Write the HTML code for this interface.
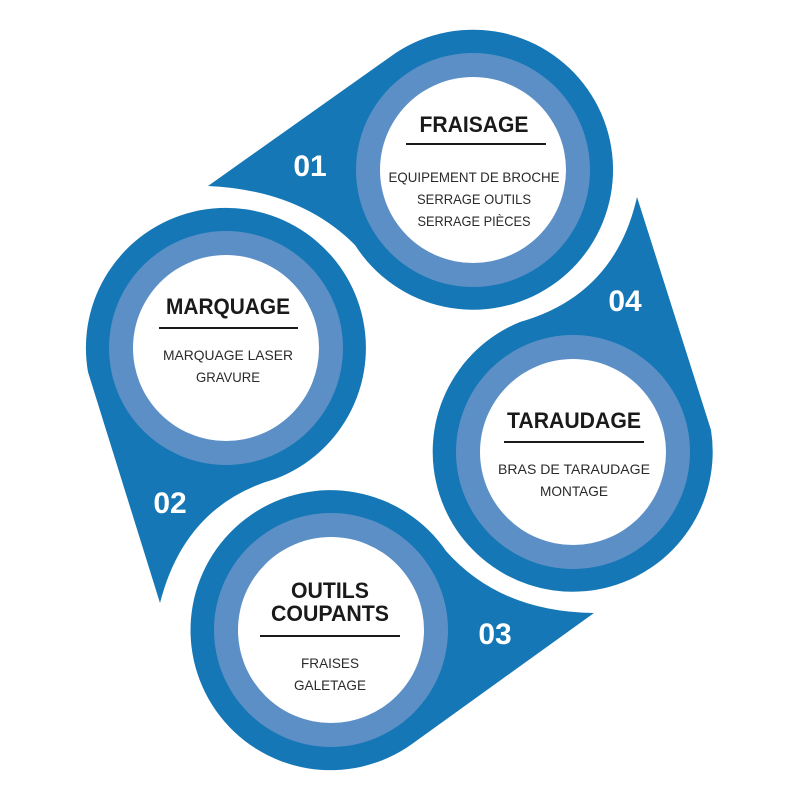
<!DOCTYPE html>
<html><head><meta charset="utf-8"><style>
html,body{margin:0;padding:0;background:#fff;width:800px;height:800px;overflow:hidden}
svg text{font-family:"Liberation Sans Narrow","Liberation Sans",sans-serif}
.t{font-weight:bold;font-size:22px;fill:#1a1a1a;text-anchor:middle}
.b{font-size:14px;fill:#2a2a2a;text-anchor:middle}
.n{font-weight:bold;font-size:30px;fill:#fff;text-anchor:middle;font-family:"Liberation Sans",sans-serif}
</style></head><body>
<svg width="800" height="800" viewBox="0 0 800 800" xmlns="http://www.w3.org/2000/svg">
<g fill="#1577b5">
<path d="M208,186 L390,57 A140,140 0 1,1 355,245 Q300,190 208,186 Z"/>
<path d="M160,603 L88,372 A140,140 0 1,1 275,479 Q185,505 160,603 Z"/>
<path d="M594,613 L412,744 A140,140 0 1,1 446,551 Q500,612 594,613 Z"/>
<path d="M637,197 L711,430 A140,140 0 1,1 520,322 Q615,295 637,197 Z"/>
</g>
<g fill="#5b8fc6">
<circle cx="473" cy="170" r="117"/><circle cx="226" cy="348" r="117"/>
<circle cx="331" cy="630" r="117"/><circle cx="573" cy="452" r="117"/>
</g>
<g fill="#fff">
<circle cx="473" cy="170" r="93"/><circle cx="226" cy="348" r="93"/>
<circle cx="331" cy="630" r="93"/><circle cx="573" cy="452" r="93"/>
</g>
<g stroke="#1a1a1a" stroke-width="2">
<line x1="406" y1="144" x2="546" y2="144"/>
<line x1="159" y1="328" x2="298" y2="328"/>
<line x1="504" y1="442" x2="644" y2="442"/>
<line x1="260" y1="636" x2="400" y2="636"/>
</g>
<text class="t" x="474" y="132" textLength="109" lengthAdjust="spacingAndGlyphs">FRAISAGE</text>
<text class="b" x="474" y="182" textLength="171" lengthAdjust="spacingAndGlyphs">EQUIPEMENT DE BROCHE</text>
<text class="b" x="474" y="204" textLength="114" lengthAdjust="spacingAndGlyphs">SERRAGE OUTILS</text>
<text class="b" x="474" y="226" textLength="113" lengthAdjust="spacingAndGlyphs">SERRAGE PIÈCES</text>
<text class="t" x="228" y="314" textLength="124" lengthAdjust="spacingAndGlyphs">MARQUAGE</text>
<text class="b" x="228" y="360" textLength="130" lengthAdjust="spacingAndGlyphs">MARQUAGE LASER</text>
<text class="b" x="228" y="382" textLength="64" lengthAdjust="spacingAndGlyphs">GRAVURE</text>
<text class="t" x="574" y="428" textLength="134" lengthAdjust="spacingAndGlyphs">TARAUDAGE</text>
<text class="b" x="574" y="474" textLength="152" lengthAdjust="spacingAndGlyphs">BRAS DE TARAUDAGE</text>
<text class="b" x="574" y="496" textLength="68" lengthAdjust="spacingAndGlyphs">MONTAGE</text>
<text class="t" x="330" y="598" textLength="78" lengthAdjust="spacingAndGlyphs">OUTILS</text>
<text class="t" x="330" y="621" textLength="118" lengthAdjust="spacingAndGlyphs">COUPANTS</text>
<text class="b" x="330" y="668" textLength="58" lengthAdjust="spacingAndGlyphs">FRAISES</text>
<text class="b" x="330" y="690" textLength="72" lengthAdjust="spacingAndGlyphs">GALETAGE</text>
<text class="n" x="310" y="176">01</text>
<text class="n" x="625" y="311">04</text>
<text class="n" x="170" y="513">02</text>
<text class="n" x="495" y="644">03</text>
</svg>
</body></html>
